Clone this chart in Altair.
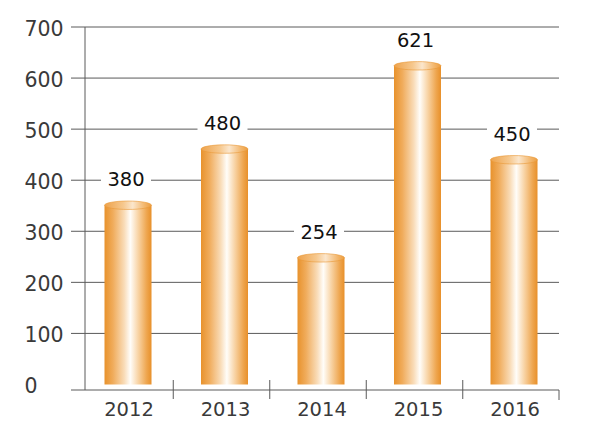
import altair as alt
import pandas as pd

# data
years = ["2012", "2013", "2014", "2015", "2016"]
bar_heights = [351, 461, 248, 624, 440]      # drawn bar tops
labels = ["380", "480", "254", "621", "450"]  # printed values
y_ticks = [0, 100, 200, 300, 400, 500, 600, 700]
grid_values = [100, 200, 300, 400, 500, 600, 700]

df = pd.DataFrame({"year": years, "value": bar_heights, "label": labels})
df_grid = pd.DataFrame({"value": grid_values})
one = pd.DataFrame({"a": [0]})

W, H = 488, 363
FONT = "DejaVu Sans"
LINE = "#5a5a5a"

xscale = alt.Scale(range=[5.75, 488.25], paddingInner=0, paddingOuter=0)
yscale = alt.Scale(domain=[-10.8, 700], nice=False, zero=False)

x_axis = alt.Axis(title=None, domain=False, ticks=False, labelAngle=0,
                  labelFont=FONT, labelFontSize=19.5, labelColor="#3a3a3a",
                  labelBaseline="middle", labelPadding=19, labelOffset=4)
y_axis = alt.Axis(title=None, values=y_ticks, grid=False, domain=False,
                  ticks=False, tickSize=0, labelAlign="left", labelPadding=47,
                  labelFont=FONT, labelFontSize=20.5, labelColor="#3a3a3a",
                  labelBaseline="middle", labelOffset=2.5)

X = alt.X("year:N", scale=xscale, axis=x_axis, sort=years)
Y = alt.Y("value:Q", scale=yscale, axis=y_axis)

body_grad = alt.Gradient(
    gradient="linear", x1=0, x2=1, y1=0, y2=0,
    stops=[
        alt.GradientStop(color="#E8922C", offset=0),
        alt.GradientStop(color="#F0AC5C", offset=0.18),
        alt.GradientStop(color="#F9DCB8", offset=0.42),
        alt.GradientStop(color="#FFFDF9", offset=0.55),
        alt.GradientStop(color="#F8D3A4", offset=0.72),
        alt.GradientStop(color="#EEA54E", offset=0.9),
        alt.GradientStop(color="#E8902A", offset=1),
    ],
)
cap_grad = alt.Gradient(
    gradient="linear", x1=0, x2=1, y1=0, y2=0,
    stops=[
        alt.GradientStop(color="#EEA24A", offset=0),
        alt.GradientStop(color="#F6C88E", offset=0.4),
        alt.GradientStop(color="#FBE6CC", offset=0.6),
        alt.GradientStop(color="#F3B76D", offset=0.85),
        alt.GradientStop(color="#EC9D40", offset=1),
    ],
)

grid = alt.Chart(df_grid).mark_rule(color=LINE, strokeWidth=1).encode(
    y=Y, x=alt.value(0), x2=alt.value(W)
)
yline = alt.Chart(one).mark_rule(color=LINE, strokeWidth=1).encode(
    x=alt.value(14), y=alt.value(0), y2=alt.value(H)
)
baseline = alt.Chart(one).mark_rule(color=LINE, strokeWidth=1).encode(
    x=alt.value(0), x2=alt.value(W), y=alt.value(H)
)
endtick = alt.Chart(one).mark_rule(color=LINE, strokeWidth=1).encode(
    x=alt.value(W), y=alt.value(H), y2=alt.value(H + 10)
)
seps = alt.Chart(df).transform_filter(alt.datum.year != "2012").mark_rule(
    color=LINE, strokeWidth=1
).encode(
    x=alt.X("year:N", scale=xscale, axis=x_axis, sort=years, bandPosition=0),
    y=alt.value(H - 10), y2=alt.value(H + 9)
)

base = alt.Chart(df).encode(x=X)

bars = base.mark_bar(size=47, xOffset=3, color=body_grad).encode(
    y=Y, y2=alt.value(H)
)
caps = base.mark_point(
    shape="M -1 0 A 1 0.18 0 1 1 1 0 A 1 0.18 0 1 1 -1 0 Z",
    size=47 * 47, filled=True, fill=cap_grad, stroke="#E99838",
    strokeWidth=0.6, opacity=1, xOffset=3,
).encode(y=Y)

boxes = base.mark_point(
    shape="M -1 -0.38 L 1 -0.38 L 1 0.38 L -1 0.38 Z",
    size=50 * 50, filled=True, fill="white", opacity=1, xOffset=1, yOffset=-25,
).encode(y=Y)

texts = base.mark_text(
    font=FONT, fontSize=19.5, color="#111111", dy=-25,
    xOffset=1, baseline="middle",
).encode(y=Y, text="label:N")

chart = alt.layer(
    grid, yline, baseline, endtick, seps, bars, caps, boxes, texts
).properties(
    width=W, height=H,
    autosize=alt.AutoSizeParams(type="none"),
    padding={"left": 63, "top": 19, "right": 33, "bottom": 30},
    background="white",
).configure_view(stroke=None)

chart.save("out.html", embed_options={"renderer": "svg", "actions": False})
